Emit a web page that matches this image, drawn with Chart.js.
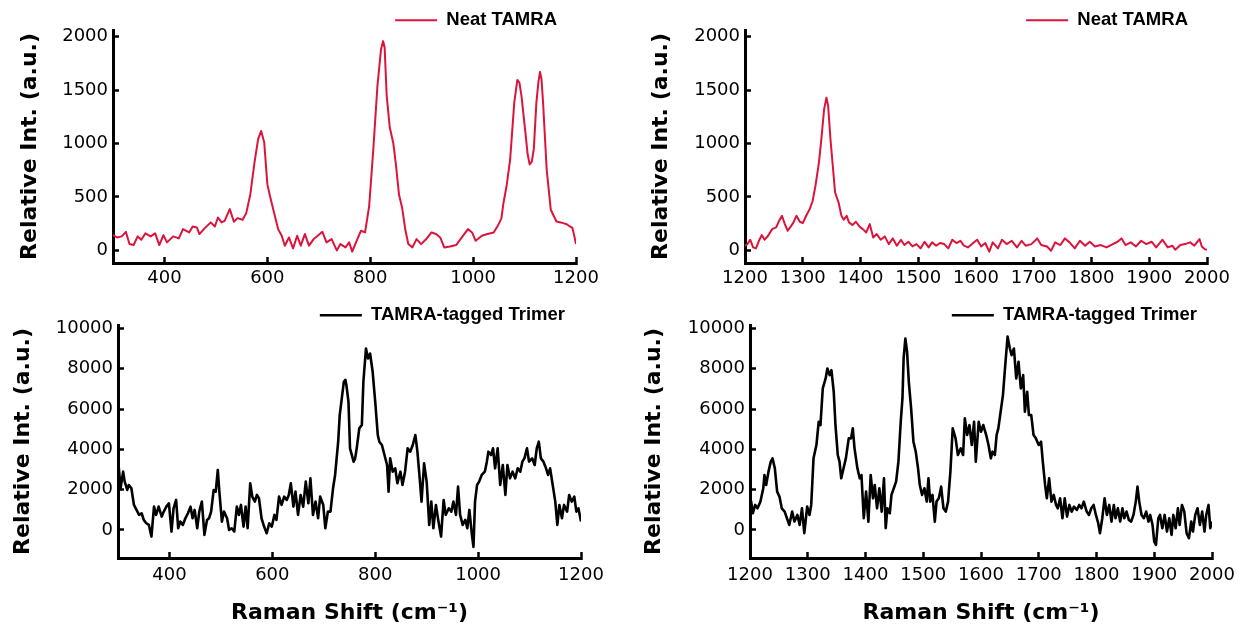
<!DOCTYPE html>
<html>
<head>
<meta charset="utf-8">
<script src="https://cdn.jsdelivr.net/npm/chart.js@4.4.1/dist/chart.umd.min.js"></script>
<style>
  html, body { margin: 0; padding: 0; background: #fff; }
  body { width: 1241px; height: 629px; position: relative; overflow: hidden; }
  canvas { position: absolute; }
</style>
</head>
<body>
<canvas id="neatLowChart"></canvas>
<canvas id="neatHighChart"></canvas>
<canvas id="trimerLowChart"></canvas>
<canvas id="trimerHighChart"></canvas>
<script>
// ---------------- Data ----------------
// [Raman shift, relative intensity]
const neatLow = [
  [300,143],[308,121],[317,131],[325,174],[332,59],[340,50],[348,131],[355,100],[363,159],[373,131],
  [382,160],[390,50],[398,143],[405,75],[417,131],[428,112],[436,199],[448,168],[455,224],[463,215],
  [468,153],[478,206],[490,262],[498,224],[504,308],[511,262],[517,277],[527,386],[535,268],[542,302],
  [552,287],[559,349],[567,526],[575,822],[582,1040],[588,1118],[594,1009],[600,620],[605,511],[613,355],
  [621,199],[628,137],[634,44],[642,121],[650,19],[658,137],[665,44],[673,153],[681,44],[690,106],
  [698,137],[707,174],[715,75],[725,106],[735,0],[742,59],[752,28],[759,75],[765,-12],[775,106],
  [782,184],[790,168],[798,417],[806,947],[814,1539],[821,1881],[825,1959],[828,1900],[832,1450],[838,1150],
  [845,1000],[850,800],[856,520],[862,400],[868,200],[874,59],[882,28],[890,106],[899,59],[909,106],
  [919,168],[928,153],[936,121],[944,28],[955,37],[967,50],[978,121],[990,199],[998,168],[1005,90],
  [1017,137],[1028,153],[1040,168],[1048,230],[1055,300],[1059,444],[1065,600],[1072,851],[1080,1383],[1086,1596],
  [1090,1570],[1094,1446],[1101,1133],[1106,900],[1110,804],[1114,830],[1118,950],[1123,1383],[1127,1580],[1130,1671],
  [1133,1600],[1136,1383],[1143,757],[1151,380],[1162,271],[1170,262],[1175,255],[1182,245],[1188,224],[1193,210],
  [1196,150],[1200,60]
];

const neatHigh = [
  [1200,44],[1204,59],[1209,100],[1214,28],[1219,19],[1225,100],[1229,143],[1234,100],[1240,137],[1247,199],
  [1254,215],[1259,277],[1264,324],[1269,246],[1274,184],[1280,230],[1284,262],[1289,324],[1295,268],[1300,255],
  [1306,324],[1312,386],[1317,460],[1322,604],[1328,822],[1332,1030],[1337,1321],[1341,1430],[1344,1352],[1348,1040],
  [1353,729],[1356,542],[1362,449],[1367,324],[1371,287],[1376,324],[1380,262],[1386,237],[1392,268],[1398,224],
  [1404,199],[1410,168],[1416,246],[1422,121],[1428,153],[1435,100],[1442,131],[1449,59],[1456,112],[1463,44],
  [1470,100],[1476,50],[1483,81],[1490,37],[1497,59],[1504,19],[1511,81],[1518,28],[1524,75],[1531,44],
  [1538,69],[1545,59],[1552,19],[1559,100],[1566,69],[1573,90],[1579,44],[1586,28],[1593,59],[1602,100],
  [1609,37],[1616,69],[1623,-12],[1629,75],[1638,19],[1645,100],[1653,59],[1662,90],[1671,28],[1679,90],
  [1686,44],[1696,59],[1706,112],[1713,50],[1723,37],[1730,-3],[1737,75],[1746,50],[1754,112],[1762,75],
  [1771,19],[1780,90],[1789,44],[1797,81],[1806,37],[1816,50],[1826,28],[1837,59],[1845,81],[1852,112],
  [1859,50],[1868,75],[1877,37],[1886,90],[1895,59],[1904,81],[1912,28],[1923,100],[1932,28],[1940,44],
  [1945,6],[1954,50],[1962,59],[1971,75],[1978,44],[1987,106],[1991,37],[1996,12],[2000,6]
];

const trimerLow = [
  [300,3550],[305,2066],[310,2893],[313,2397],[318,1984],[321,2232],[326,2066],[331,1240],[336,992],[341,744],
  [346,827],[350,496],[355,331],[360,248],[365,-331],[370,1157],[374,744],[379,1157],[385,661],[389,909],
  [394,1157],[399,1322],[404,-83],[408,1074],[413,1488],[417,83],[421,413],[426,248],[431,579],[436,827],
  [441,1157],[445,579],[449,992],[454,83],[458,909],[463,1405],[468,-248],[473,496],[477,579],[481,909],
  [486,1984],[490,1901],[494,2975],[497,1901],[502,413],[506,909],[512,579],[516,0],[521,83],[526,-83],
  [531,1157],[535,744],[539,1240],[544,165],[548,1157],[552,83],[557,2314],[561,1653],[566,1405],[570,1736],
  [574,1570],[579,579],[584,165],[589,-165],[594,331],[599,165],[604,744],[608,496],[613,1653],[618,1240],
  [623,1653],[628,1488],[632,1736],[636,2314],[641,1157],[645,1901],[650,744],[655,1736],[660,1157],[665,2397],
  [670,1322],[674,2563],[679,744],[684,1405],[689,579],[693,1653],[699,1240],[703,83],[708,909],[713,909],
  [718,2066],[722,2727],[728,4380],[731,5703],[735,6529],[739,7355],[742,7450],[744,7190],[748,6364],[751,4050],
  [758,3389],[761,3554],[764,4050],[769,5042],[774,5207],[777,7356],[782,9009],[786,8513],[790,8761],[795,7852],
  [800,6364],[805,4711],[808,4380],[813,4215],[818,3719],[823,3223],[826,1901],[829,3554],[834,2893],[839,3058],
  [843,2314],[849,2893],[853,2232],[858,2893],[863,4050],[868,3885],[873,4215],[878,4711],[882,3885],[887,2397],
  [890,1405],[895,3306],[900,2397],[905,248],[909,1405],[913,83],[918,1240],[923,413],[928,-331],[933,1488],
  [937,744],[943,1074],[948,909],[952,1405],[957,744],[961,2149],[965,744],[970,248],[975,496],[979,83],
  [983,992],[988,-248],[991,-850],[994,1405],[998,2232],[1002,2397],[1007,2727],[1013,2893],[1017,3389],[1020,3885],
  [1025,3719],[1029,4050],[1033,3058],[1038,4050],[1043,2232],[1048,3223],[1053,1736],[1057,3223],[1062,2562],[1067,2893],
  [1072,2562],[1077,3058],[1082,2893],[1086,3389],[1090,3554],[1095,4050],[1099,3389],[1105,3554],[1110,3223],[1114,4050],
  [1118,4380],[1122,3554],[1127,3389],[1132,3058],[1136,2727],[1140,3058],[1145,2232],[1150,1405],[1154,248],[1158,1240],
  [1163,579],[1167,1240],[1173,909],[1177,1736],[1182,1405],[1187,1653],[1191,909],[1195,1074],[1200,413]
];

const trimerHigh = [
  [1200,1600],[1202,1405],[1205,827],[1209,1240],[1213,1074],[1218,1405],[1223,2066],[1225,2727],[1228,2232],[1232,2893],
  [1236,3389],[1239,3554],[1243,3058],[1247,1901],[1251,1653],[1255,1074],[1260,909],[1264,579],[1268,248],[1273,909],
  [1277,413],[1282,744],[1286,248],[1290,1074],[1294,-165],[1299,1157],[1303,744],[1306,1240],[1310,3554],[1315,4215],
  [1319,5372],[1322,5207],[1326,7025],[1331,7521],[1334,8017],[1338,7686],[1341,7934],[1345,6860],[1348,5207],[1352,3719],
  [1355,3389],[1358,2562],[1362,3058],[1366,3554],[1371,4546],[1375,4546],[1378,5042],[1381,4050],[1386,3058],[1390,2562],
  [1393,2727],[1397,579],[1401,1901],[1405,413],[1409,2727],[1413,1570],[1416,2232],[1420,1074],[1424,2066],[1428,909],
  [1432,2562],[1435,83],[1438,1074],[1442,827],[1445,1736],[1449,2066],[1453,2397],[1457,3389],[1461,5372],[1464,6529],
  [1466,8513],[1469,9505],[1472,8844],[1475,7356],[1479,6033],[1483,4380],[1487,3885],[1491,3058],[1494,2232],[1498,1736],
  [1502,2066],[1506,1405],[1509,2562],[1512,1405],[1516,1736],[1520,413],[1523,1405],[1527,1570],[1531,2149],[1535,1074],
  [1539,909],[1543,1405],[1547,2893],[1551,5042],[1556,4546],[1560,3719],[1565,4050],[1569,3719],[1572,5538],[1576,4711],
  [1580,5207],[1584,4215],[1588,5372],[1591,3389],[1596,5372],[1600,4876],[1604,5207],[1609,4711],[1613,4215],[1617,3554],
  [1620,3885],[1624,3719],[1627,4711],[1630,5042],[1634,5868],[1638,6694],[1642,8182],[1646,9600],[1650,9009],[1653,8678],
  [1657,9009],[1661,7521],[1665,8348],[1669,7025],[1673,7686],[1676,5868],[1680,6860],[1683,5703],[1687,5703],[1691,4711],
  [1695,4546],[1700,4215],[1704,4380],[1707,3389],[1711,2232],[1714,1570],[1718,2562],[1722,1405],[1726,1736],[1730,1240],
  [1733,1074],[1737,1570],[1741,579],[1745,1570],[1749,661],[1753,1240],[1757,909],[1761,1157],[1766,992],[1770,1240],
  [1774,1074],[1778,1405],[1783,909],[1787,744],[1791,1074],[1795,1240],[1799,744],[1803,331],[1806,-165],[1810,579],
  [1814,1570],[1818,744],[1822,1240],[1826,413],[1830,1240],[1833,579],[1837,1074],[1841,413],[1845,1074],[1848,579],
  [1852,909],[1856,496],[1860,413],[1864,744],[1868,1405],[1871,2149],[1874,1405],[1878,744],[1882,579],[1886,909],
  [1890,413],[1893,744],[1897,248],[1900,-579],[1903,-744],[1907,579],[1910,744],[1914,83],[1918,744],[1922,-83],
  [1926,579],[1930,-248],[1933,744],[1937,83],[1941,1074],[1944,248],[1948,1240],[1952,909],[1956,-165],[1960,-413],
  [1964,413],[1967,-83],[1971,744],[1975,1074],[1979,248],[1983,909],[1987,-83],[1990,744],[1994,1240],[1997,83],
  [2000,413]
];

// ---------------- Axis ticks / ranges ----------------
const lowShiftTicks = [400, 600, 800, 1000, 1200];
const highShiftTicks = [1200, 1300, 1400, 1500, 1600, 1700, 1800, 1900, 2000];
const neatIntTicks = [0, 500, 1000, 1500, 2000];
const trimerIntTicks = [0, 2000, 4000, 6000, 8000, 10000];
const neatRange = [-118, 2063];
const trimerRange = [-1395, 10175];

const RED = "rgb(220,20,60)";
const BLACK = "#000";

Chart.defaults.font.family = "'DejaVu Sans', sans-serif";
Chart.defaults.color = "#000";

// ---------------- One panel ----------------
function makePanel(id, p) {
  const cv = document.getElementById(id);
  cv.width = p.w;
  cv.height = p.h;
  cv.style.left = p.left + "px";
  cv.style.top = p.top + "px";
  cv.style.width = p.w + "px";
  cv.style.height = p.h + "px";

  const tickFont = { family: "'DejaVu Sans', sans-serif", size: 18 };
  const titleFont = { family: "'DejaVu Sans', sans-serif", size: 22, weight: "bold" };

  return new Chart(cv, {
    type: "line",
    data: {
      datasets: [{
        label: p.label,
        data: p.points.map(d => ({ x: d[0], y: d[1] })),
        borderColor: p.color,
        backgroundColor: p.color,
        borderWidth: p.lw,
        borderJoinStyle: "round",
        pointRadius: 0,
        tension: 0,
        fill: false
      }]
    },
    options: {
      responsive: false,
      animation: false,
      devicePixelRatio: 1,
      layout: { padding: { top: 0, left: 0, right: p.padRight, bottom: 0 } },
      plugins: {
        tooltip: { enabled: false },
        legend: {
          position: "top",
          align: "end",
          fullSize: false,
          maxHeight: p.legendHeight,
          labels: {
            usePointStyle: true,
            pointStyle: "line",
            pointStyleWidth: 42,
            padding: p.legendPad,
            color: "#000",
            font: { family: "'Liberation Sans', Arial, sans-serif", size: 18.5, weight: "bold" }
          }
        }
      },
      scales: {
        x: {
          type: "linear",
          min: p.xMin,
          max: p.xTicks[p.xTicks.length - 1],
          afterBuildTicks: s => { s.ticks = p.xTicks.map(v => ({ value: v })); },
          afterFit: s => { s.height = p.xHeight; s.paddingLeft = 0; s.paddingRight = 0; },
          border: { display: true, color: "#000", width: 3 },
          grid: { drawOnChartArea: false, drawTicks: true, tickLength: -6, tickWidth: 2.5, tickColor: "#000" },
          ticks: { color: "#000", padding: p.xTickPad, font: tickFont, maxRotation: 0, autoSkip: false, callback: v => String(v) },
          title: {
            display: !!p.xTitle,
            text: p.xTitle || "",
            color: "#000",
            font: titleFont,
            padding: { top: 0, bottom: 3 }
          }
        },
        y: {
          type: "linear",
          min: p.yRange[0],
          max: p.yRange[1],
          afterBuildTicks: s => { s.ticks = p.yTicks.map(v => ({ value: v })); },
          afterFit: s => { s.width = p.yWidth; s.paddingTop = 0; s.paddingBottom = 0; },
          border: { display: true, color: "#000", width: 3 },
          grid: { drawOnChartArea: false, drawTicks: true, tickLength: -6, tickWidth: 2.5, tickColor: "#000" },
          ticks: { color: "#000", padding: 11, font: tickFont, autoSkip: false, callback: v => String(v) },
          title: {
            display: true,
            text: "Relative Int. (a.u.)",
            color: "#000",
            font: titleFont,
            padding: { top: p.yTitlePad, bottom: 0 }
          }
        }
      }
    }
  });
}

// ---------------- Build the four panels ----------------
makePanel("neatLowChart", {
  left: 0, top: -8, w: 620, h: 300, padRight: 44, yWidth: 113, xHeight: 29,
  legendHeight: 38, legendPad: 19, yTitlePad: 17, xTickPad: 11,
  label: "Neat TAMRA", points: neatLow, color: RED, lw: 2,
  xMin: 300, xTicks: lowShiftTicks, yTicks: neatIntTicks, yRange: neatRange
});

makePanel("neatHighChart", {
  left: 620, top: -8, w: 621, h: 300, padRight: 34, yWidth: 125, xHeight: 29,
  legendHeight: 38, legendPad: 19, yTitlePad: 28, xTickPad: 11,
  label: "Neat TAMRA", points: neatHigh, color: RED, lw: 2,
  xMin: 1200, xTicks: highShiftTicks, yTicks: neatIntTicks, yRange: neatRange
});

makePanel("trimerLowChart", {
  left: 0, top: 290, w: 620, h: 339, padRight: 39, yWidth: 118, xHeight: 71,
  legendHeight: 35, legendPad: 16, yTitlePad: 10, xTickPad: 13,
  label: "TAMRA-tagged Trimer", points: trimerLow, color: BLACK, lw: 2.6,
  xMin: 300, xTicks: lowShiftTicks, yTicks: trimerIntTicks, yRange: trimerRange,
  xTitle: "Raman Shift (cm\u207B\u00B9)"
});

makePanel("trimerHighChart", {
  left: 620, top: 291, w: 621, h: 338, padRight: 29, yWidth: 130, xHeight: 71,
  legendHeight: 34, legendPad: 15, yTitlePad: 21, xTickPad: 13,
  label: "TAMRA-tagged Trimer", points: trimerHigh, color: BLACK, lw: 2.6,
  xMin: 1200, xTicks: highShiftTicks, yTicks: trimerIntTicks, yRange: trimerRange,
  xTitle: "Raman Shift (cm\u207B\u00B9)"
});
</script>
</body>
</html>
